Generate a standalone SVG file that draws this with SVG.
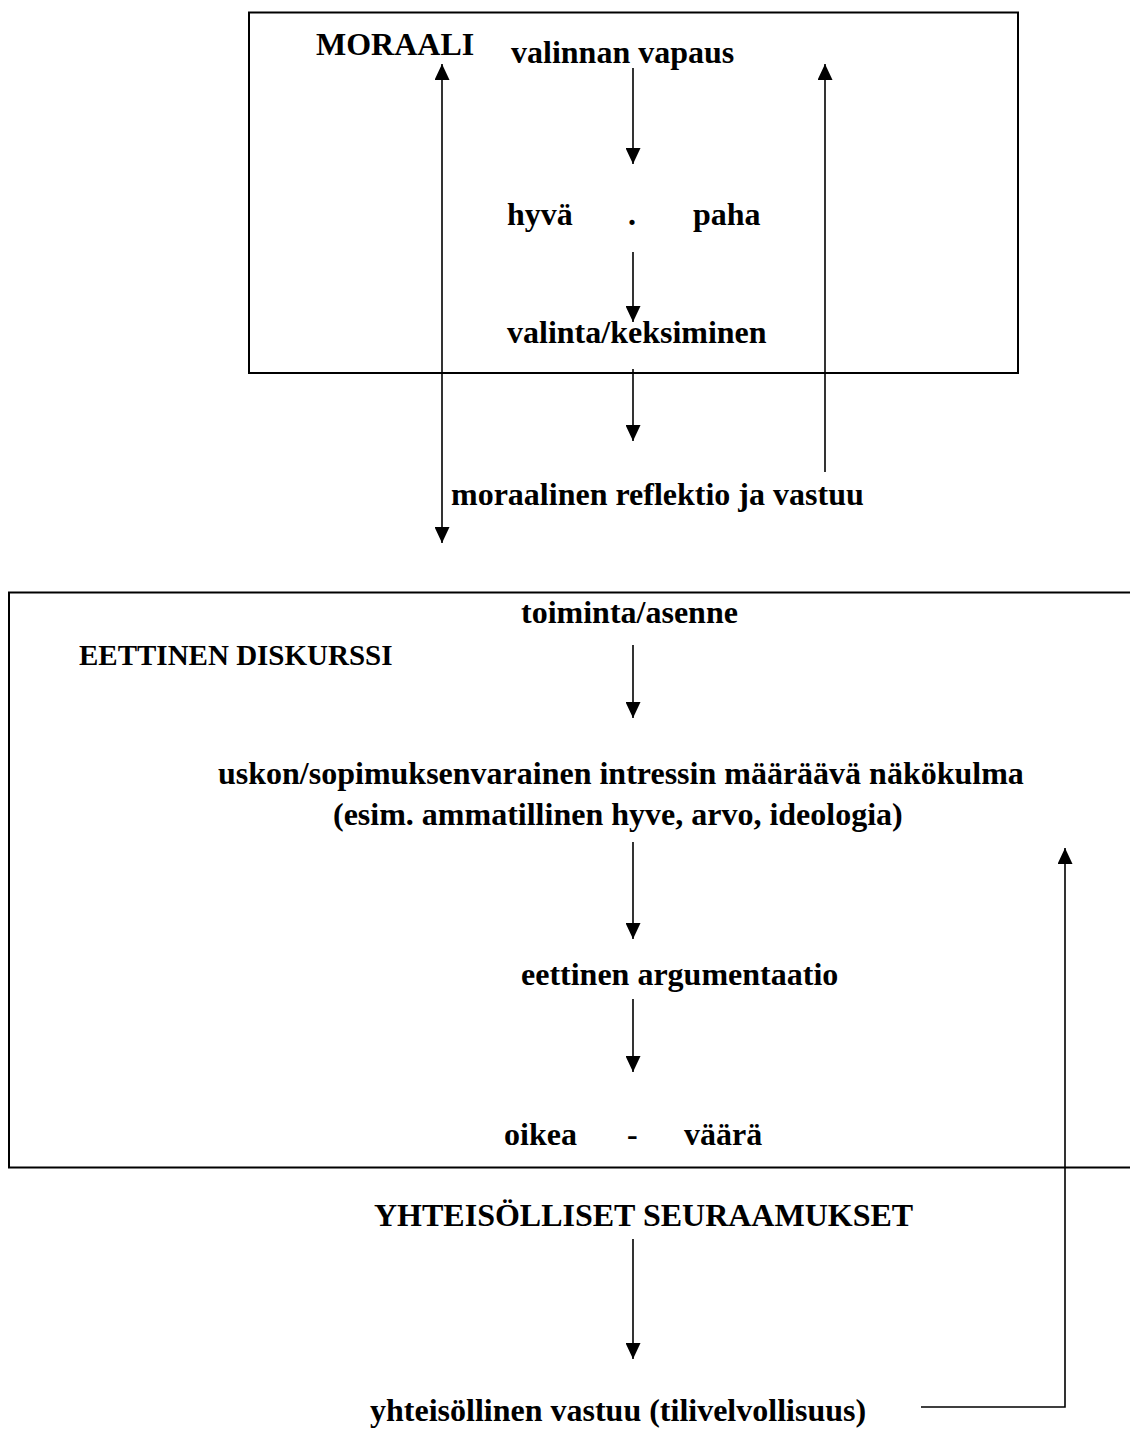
<svg xmlns="http://www.w3.org/2000/svg" width="1130" height="1432" viewBox="0 0 1130 1432">
<style>
text{font-family:"Liberation Serif","Times New Roman",serif;font-weight:bold;font-size:32px;fill:#000}
.small{font-size:29px}
.box{fill:none;stroke:#000;stroke-width:2}
.c{fill:none;stroke:#000;stroke-width:1.6}
</style>
<defs>
<marker id="ah" markerUnits="userSpaceOnUse" markerWidth="16" markerHeight="15" refX="16" refY="7.5" orient="auto">
<path d="M0,0 L16,7.5 L0,15 z" fill="#000"/>
</marker>
<marker id="as" markerUnits="userSpaceOnUse" markerWidth="16" markerHeight="15" refX="0" refY="7.5" orient="auto">
<path d="M16,0 L0,7.5 L16,15 z" fill="#000"/>
</marker>
</defs>
<rect fill="#fff" x="0" y="0" width="1130" height="1432"/>
<g id="moraali-box">
<rect class="box" x="249" y="12.5" width="769" height="360.5"/>
<text x="316" y="55">MORAALI</text>
</g>
<g id="eettinen-box">
<rect class="box" x="9" y="592.5" width="1140" height="575"/>
<text class="small" x="79" y="665">EETTINEN DISKURSSI</text>
</g>
<g id="valinnan-vapaus"><text x="511" y="63">valinnan vapaus</text></g>
<g id="hyva-paha"><text x="507" y="225">hyvä</text><text x="628" y="225">.</text><text x="693" y="225">paha</text></g>
<g id="valinta"><text x="507" y="343">valinta/keksiminen</text></g>
<g id="reflektio"><text x="451" y="505">moraalinen reflektio ja vastuu</text></g>
<g id="toiminta"><text x="521" y="623">toiminta/asenne</text></g>
<g id="nakokulma"><text x="218" y="784">uskon/sopimuksenvarainen intressin määräävä näkökulma</text><text x="333" y="825">(esim. ammatillinen hyve, arvo, ideologia)</text></g>
<g id="argumentaatio"><text x="521" y="985">eettinen argumentaatio</text></g>
<g id="oikea-vaara"><text x="504" y="1145">oikea</text><text x="627" y="1145">-</text><text x="684" y="1145">väärä</text></g>
<g id="seuraamukset"><text x="374" y="1226">YHTEISÖLLISET SEURAAMUKSET</text></g>
<g id="vastuu"><text x="370" y="1421">yhteisöllinen vastuu (tilivelvollisuus)</text></g>
<g id="connectors">
<line class="c" x1="633" y1="68" x2="633" y2="164" marker-end="url(#ah)"/>
<line class="c" x1="633" y1="252" x2="633" y2="322" marker-end="url(#ah)"/>
<line class="c" x1="633" y1="369" x2="633" y2="441" marker-end="url(#ah)"/>
<line class="c" x1="442" y1="64" x2="442" y2="543" marker-start="url(#as)" marker-end="url(#ah)"/>
<line class="c" x1="825" y1="472" x2="825" y2="64" marker-end="url(#ah)"/>
<line class="c" x1="633" y1="645" x2="633" y2="718" marker-end="url(#ah)"/>
<line class="c" x1="633" y1="842" x2="633" y2="939" marker-end="url(#ah)"/>
<line class="c" x1="633" y1="999" x2="633" y2="1072" marker-end="url(#ah)"/>
<line class="c" x1="633" y1="1239" x2="633" y2="1359" marker-end="url(#ah)"/>
<polyline class="c" points="921,1407 1065,1407 1065,848" marker-end="url(#ah)"/>
</g>
</svg>
